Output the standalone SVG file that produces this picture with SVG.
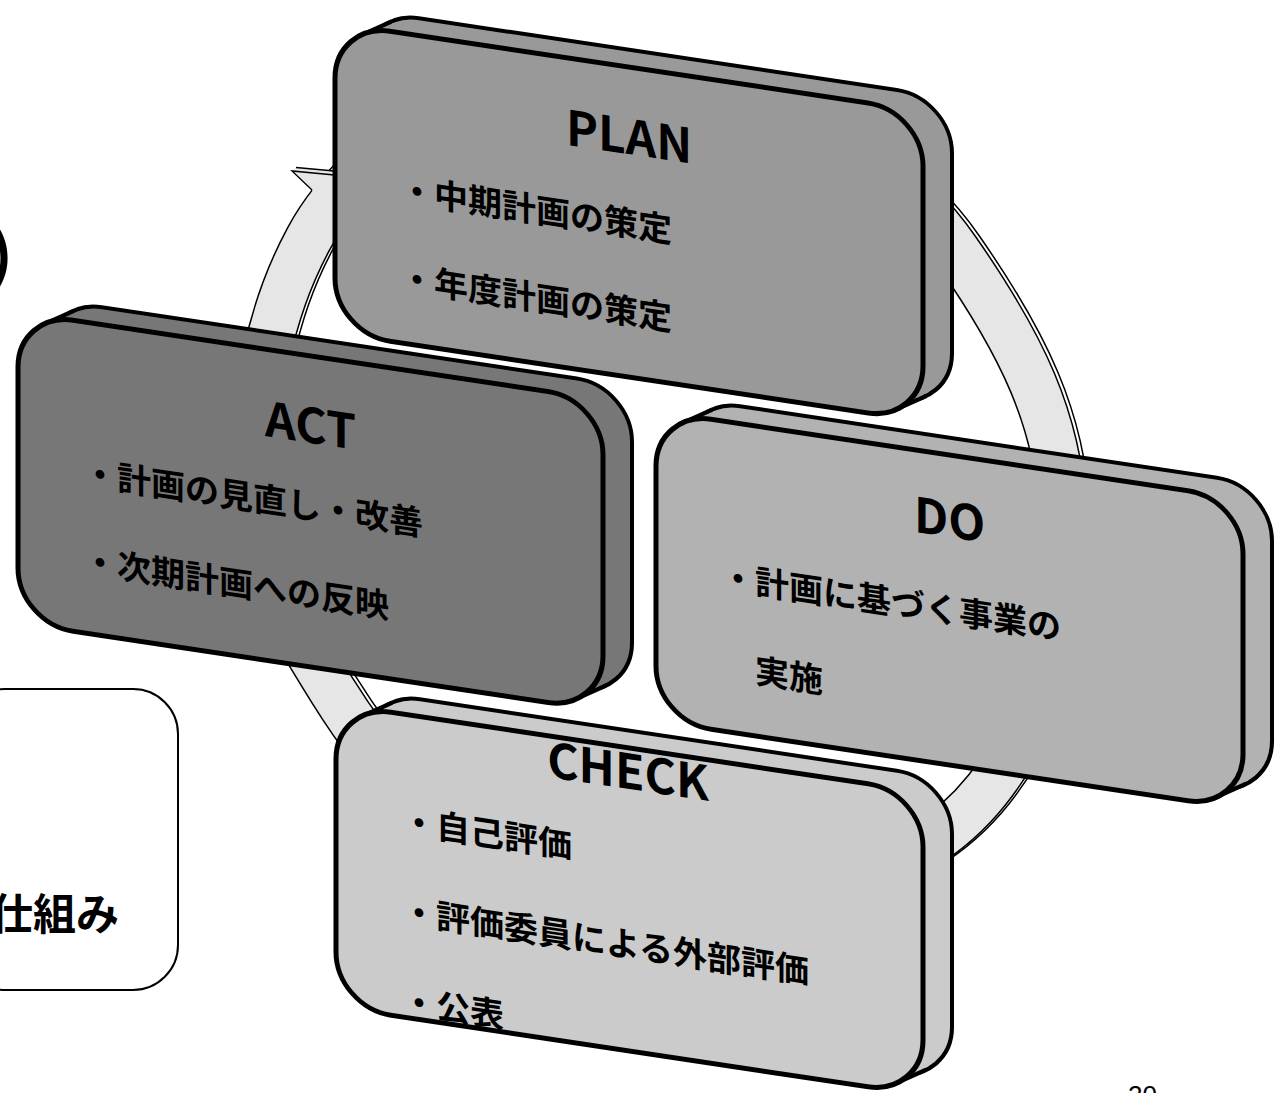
<svg xmlns="http://www.w3.org/2000/svg" width="1285" height="1093" viewBox="0 0 1285 1093">
<style>
.back{stroke:#000;stroke-width:4;stroke-linejoin:round}
.face{stroke:#000;stroke-width:5;stroke-linejoin:round}
.edge{stroke:#000;stroke-width:4;stroke-linecap:round;fill:none}
.side{stroke:none}
.t{font-family:"Noto Sans CJK JP","Noto Sans CJK SC",sans-serif;font-weight:700;fill:#000}
.title{font-size:48px;text-anchor:middle}
.item{font-size:34px}
.rb{fill:none;stroke:#000;stroke-width:49}
.rw{fill:none;stroke:#fff;stroke-width:46}
.rg{fill:none;stroke:#e6e6e6;stroke-width:46}
</style>
<defs>
<path id="ringpath" d="M308,240C367.7,128.2 503,81.8 630,92C760,102.4 882,143.4 956,250C1017.6,338.6 1063,422 1063,530C1063,627 1047.1,714.3 987,790C906.4,891.4 770,905 640,905C505,905 403.6,804.8 332,690C287,617.7 255,565 255,480C255,395 268,314.8 308,240Z"/>
</defs>
<rect width="1285" height="1093" fill="#fff"/>
<g id="connectors">
<g transform="translate(3.5,-1)">
<use href="#ringpath" class="rb"/>
<use href="#ringpath" class="rw"/>
</g>
<use href="#ringpath" class="rb"/>
<use href="#ringpath" class="rg"/>
<polygon points="312,190 292,171 297,167 420,178 420,300 336,236" fill="#e6e6e6"/>
<polyline points="312,190 292,171 345,176" fill="none" stroke="#000" stroke-width="1.4"/>
<line x1="296" y1="167.5" x2="345" y2="172" stroke="#000" stroke-width="1.4"/>
</g>
<g id="check" transform="matrix(1,0.15,0,1,336,704)" fill="#cbcbcb">
<rect class="back" x="29" y="-17.35" width="587" height="303" rx="55"/>
<polygon class="side" points="26.76,7.8 55.76,-9.55 589.24,277.85 560.24,295.2"/>
<line class="edge" x1="26.76" y1="7.8" x2="55.76" y2="-9.55"/>
<line class="edge" x1="560.24" y1="295.2" x2="589.24" y2="277.85"/>
<rect class="face" x="0" y="0" width="587" height="303" rx="55"/>
<text class="t title" x="292" y="41" font-size="45">CHECK</text>
<text class="t item" x="66" y="119">・自己評価</text>
<text class="t item" x="66" y="209">・評価委員による外部評価</text>
<text class="t item" x="66" y="299">・公表</text>
</g>
<g id="act" transform="matrix(1,0.15,0,1,18,312)" fill="#777777">
<rect class="back" x="29" y="-17.35" width="585" height="311" rx="55"/>
<polygon class="side" points="26.76,7.8 55.76,-9.55 587.24,285.85 558.24,303.2"/>
<line class="edge" x1="26.76" y1="7.8" x2="55.76" y2="-9.55"/>
<line class="edge" x1="558.24" y1="303.2" x2="587.24" y2="285.85"/>
<rect class="face" x="0" y="0" width="585" height="311" rx="55"/>
<text class="t title" x="292.5" y="87">ACT</text>
<text class="t item" x="65" y="163">・計画の見直し・改善</text>
<text class="t item" x="65" y="251">・次期計画への反映</text>
</g>
<g id="do" transform="matrix(1,0.15,0,1,656,411)" fill="#b2b2b2">
<rect class="back" x="29" y="-17.35" width="587" height="310" rx="55"/>
<polygon class="side" points="26.76,7.8 55.76,-9.55 589.24,284.85 560.24,302.2"/>
<line class="edge" x1="26.76" y1="7.8" x2="55.76" y2="-9.55"/>
<line class="edge" x1="560.24" y1="302.2" x2="589.24" y2="284.85"/>
<rect class="face" x="0" y="0" width="587" height="310" rx="55"/>
<text class="t title" x="293.5" y="82">DO</text>
<text class="t item" x="65" y="168">・計画に基づく事業の</text>
<text class="t item" x="99" y="257">実施</text>
</g>
<g id="plan" transform="matrix(1,0.15,0,1,335,23)" fill="#999999">
<rect class="back" x="29" y="-17.35" width="588" height="310" rx="55"/>
<polygon class="side" points="26.76,7.8 55.76,-9.55 590.24,284.85 561.24,302.2"/>
<line class="edge" x1="26.76" y1="7.8" x2="55.76" y2="-9.55"/>
<line class="edge" x1="561.24" y1="302.2" x2="590.24" y2="284.85"/>
<rect class="face" x="0" y="0" width="588" height="310" rx="55"/>
<text class="t title" x="294" y="87">PLAN</text>
<text class="t item" x="65" y="169">・中期計画の策定</text>
<text class="t item" x="65" y="257">・年度計画の策定</text>
</g>
<g id="note">
<rect x="-40" y="689" width="218" height="301" rx="45" fill="none" stroke="#000" stroke-width="2"/>
<text class="t" x="-10" y="930" font-size="43">仕組み</text>
</g>
<text class="t" x="-10" y="277" font-size="60">)</text>
<text x="1128" y="1104" font-family="Liberation Sans, Arial, sans-serif" font-size="26" fill="#000">20</text>
</svg>
